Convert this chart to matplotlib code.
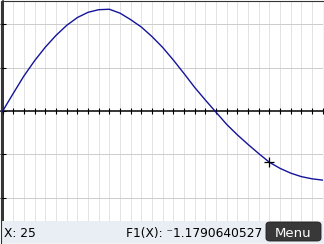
import matplotlib
matplotlib.use('Agg')
import matplotlib.pyplot as plt
from matplotlib.patches import Rectangle, FancyBboxPatch

# Values
x_vals = list(range(0, 31))
f1_vals = [0.00, 0.41, 0.81, 1.16, 1.47, 1.74, 1.97, 2.15, 2.27, 2.33,
           2.34, 2.25, 2.10, 1.93, 1.71, 1.46, 1.17, 0.86, 0.54, 0.25,
           -0.03, -0.31, -0.55, -0.77, -0.98, -1.18, -1.32, -1.43, -1.51,
           -1.56, -1.59]
cursor_x = 25
cursor_y = -1.1790640527
x_ticks = list(range(0, 31))
y_ticks = [-2, -1, 0, 1, 2]
status_left = 'X: 25'
status_right = 'F1(X): \u207b1.1790640527'
button_label = 'Menu'

W, H = 324, 244
fig = plt.figure(figsize=(W / 100, H / 100), dpi=100)
fig.patch.set_facecolor('white')

# plot area in pixels: x 1..323, y 1..221 (from top)
ax = fig.add_axes([1 / W, (H - 221) / H, 322 / W, 220 / H])
ax.set_xlim(-0.16, 30.02)
ax.set_ylim(-2.53, 2.53)
ax.set_facecolor('white')

for xv in x_ticks:
    ax.axvline(xv, color='#e3e3e3', lw=0.72, zorder=0)
for yv in y_ticks:
    if yv != 0:
        ax.axhline(yv, color='#cdcdcd', lw=0.72, zorder=0)

for side in ['top', 'right']:
    ax.spines[side].set_visible(False)
ax.spines['left'].set_position(('data', 0))
ax.spines['bottom'].set_position(('data', 0))
for side in ['left', 'bottom']:
    ax.spines[side].set_color('black')
    ax.spines[side].set_linewidth(1.1)
ax.set_xticks(x_ticks)
ax.set_yticks(y_ticks)
ax.tick_params(direction='inout', length=4.5, width=0.8, colors='black',
               labelbottom=False, labelleft=False)

ax.plot(x_vals, f1_vals, color='#14149a', lw=1.0, zorder=3)
ax.plot([cursor_x], [cursor_y], marker='+', color='black', ms=7, mew=0.9, zorder=4)

# status bar
fig.patches.append(Rectangle((1 / W, 1 / H), 322 / W, 22 / H, transform=fig.transFigure,
                             facecolor='#e8eef3', edgecolor='none', zorder=1))
fig.text(4 / W, (H - 237) / H, status_left, fontsize=8.8, color='black',
         family='DejaVu Sans', va='baseline', ha='left')
fig.text(262 / W, (H - 237) / H, status_right, fontsize=8.8, color='black',
         family='DejaVu Sans', va='baseline', ha='right')

btn = FancyBboxPatch((266 / W, (H - 241) / H), 55 / W, 19 / H,
                     boxstyle='round,pad=0,rounding_size=0.012',
                     transform=fig.transFigure, facecolor='#383838',
                     edgecolor='#1e1e1e', lw=0.6, zorder=2)
fig.patches.append(btn)
fig.text(293.5 / W, (H - 237) / H, button_label, fontsize=9.5, color='white',
         family='DejaVu Sans', va='baseline', ha='center', zorder=3)

# screen border
fig.patches.append(Rectangle((0.5 / W, 0.5 / H), 323 / W, 243 / H, transform=fig.transFigure,
                             fill=False, edgecolor='#333333', lw=0.8, zorder=5))

fig.savefig('out.png', dpi=100)
